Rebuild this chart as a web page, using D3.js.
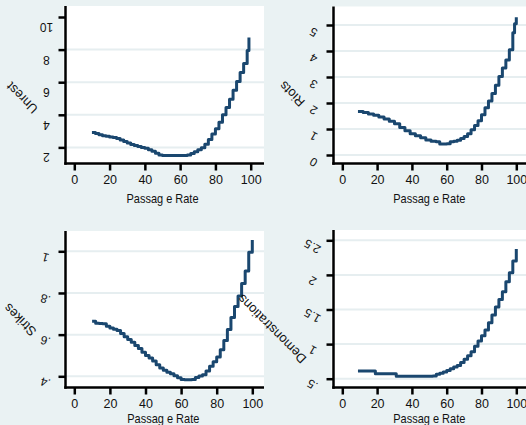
<!DOCTYPE html>
<html><head><meta charset="utf-8">
<script src="https://cdn.jsdelivr.net/npm/d3@7"></script>
<style>body{margin:0;background:#eaf2f3}svg{display:block}</style>
</head><body><svg id="c" width="526" height="425"></svg>
<script>
// ---- data ----
const xTicks = [0, 20, 40, 60, 80, 100];
const xTitle = "Passag e Rate";

const unrestX = [10,12,14,16,18,20,22,24,26,28,30,32,34,36,38,40,42,44,46,48,50,52,54,56,58,60,62,64,66,68,70,72,74,76,78,80,82,84,86,88,90,92,94,96,98,99];
const unrestY = [2.92,2.85,2.78,2.72,2.68,2.64,2.6,2.55,2.45,2.36,2.27,2.18,2.12,2.06,2.0,1.95,1.86,1.76,1.64,1.54,1.5,1.5,1.5,1.5,1.5,1.5,1.5,1.53,1.62,1.74,1.85,1.98,2.2,2.48,2.82,3.15,3.55,4.0,4.45,4.95,5.5,6.05,6.6,7.15,7.95,8.75];
const unrestTicks = [2,4,6,8,10];
const unrestTickLabels = ["2","4","6","8","10"];

const riotsX = [9,12,15,18,21,24,27,30,33,36,39,42,45,48,51,54,56,58,60,62,64,66,68,70,72,74,76,78,80,82,84,86,88,90,92,94,96,98,99,100];
const riotsY = [1.67,1.63,1.58,1.53,1.46,1.38,1.3,1.2,1.06,0.93,0.82,0.74,0.66,0.58,0.53,0.51,0.42,0.42,0.43,0.51,0.53,0.57,0.63,0.71,0.82,0.97,1.13,1.32,1.55,1.82,2.08,2.37,2.68,3.02,3.35,3.65,4.05,4.7,5.05,5.3];
const riotsTicks = [0,1,2,3,4,5];
const riotsTickLabels = ["0","1","2","3","4","5"];

const strikesX = [10,12,14,16,18,20,22,24,26,28,30,32,34,36,38,40,42,44,46,48,50,52,54,56,58,60,62,64,66,68,70,72,74,76,78,80,82,84,86,88,90,92,94,96,98,100];
const strikesY = [0.664,0.655,0.653,0.652,0.64,0.632,0.626,0.62,0.605,0.59,0.577,0.563,0.548,0.533,0.515,0.5,0.488,0.473,0.455,0.44,0.429,0.42,0.412,0.403,0.393,0.385,0.384,0.384,0.385,0.394,0.402,0.408,0.425,0.448,0.47,0.493,0.527,0.572,0.625,0.682,0.735,0.785,0.845,0.905,0.995,1.054];
const strikesTicks = [0.4,0.6,0.8,1];
const strikesTickLabels = [".4",".6",".8","1"];

const demoX = [9,12,15,18,19,22,26,30,31,35,40,45,50,52,54,56,58,60,62,64,66,68,70,72,74,76,78,80,82,84,86,88,90,92,94,96,98,100];
const demoY = [0.61,0.61,0.61,0.61,0.572,0.572,0.572,0.572,0.535,0.535,0.535,0.535,0.535,0.54,0.563,0.58,0.597,0.62,0.645,0.668,0.69,0.735,0.78,0.83,0.89,0.97,1.045,1.12,1.205,1.31,1.42,1.535,1.645,1.755,1.9,2.03,2.2,2.375];
const demoTicks = [0.5,1,1.5,2,2.5];
const demoTickLabels = [".5","1","1.5","2","2.5"];

// ---- layout ----
const BG = "#eaf2f3", GRID = "#e6eef0", LINE = "#1a476f";
const FONT = "'Liberation Sans', Arial, Helvetica, sans-serif";

const panels = [
  {title:"Unrest", xs:unrestX, ys:unrestY, ticks:unrestTicks, labels:unrestTickLabels, grid:[2,4,6,8],
   box:{l:65.5,r:264,t:6,b:163.5}, xr:[74.3,250.7], yd:[2,10], yr:[147.4,17],
   tlx:-19, tdy:10, trot:180, ttl:[22,98]},
  {title:"Riots", xs:riotsX, ys:riotsY, ticks:riotsTicks, labels:riotsTickLabels, grid:riotsTicks,
   box:{l:333.5,r:526,t:6.5,b:163.5}, xr:[342.3,516.3], yd:[0,5], yr:[155,25],
   tlx:-20, tdy:7, trot:210, ttl:[292,94]},
  {title:"Strikes", xs:strikesX, ys:strikesY, ticks:strikesTicks, labels:strikesTickLabels, grid:strikesTicks,
   box:{l:65.5,r:264,t:231,b:387.5}, xr:[74.3,252.3], yd:[0.4,1], yr:[376.3,251.3],
   tlx:-20, tdy:6, trot:195, ttl:[20,320]},
  {title:"Demonstrations", xs:demoX, ys:demoY, ticks:demoTicks, labels:demoTickLabels, grid:demoTicks,
   box:{l:333.5,r:526,t:230,b:387.5}, xr:[342.3,516.3], yd:[0.5,2.5], yr:[378.7,240.3],
   tlx:-21, tdy:6, trot:210, ttl:[272,329]}
];

const svg = d3.select("#c");
svg.append("rect").attr("width",526).attr("height",425).attr("fill",BG);

// white plot regions first
panels.forEach(p => {
  svg.append("rect").attr("x",p.box.l-2).attr("y",p.box.t).attr("width",p.box.r-p.box.l+2)
    .attr("height",p.box.b-p.box.t+2).attr("fill","#fff");
});

panels.forEach(p => {
  const x = d3.scaleLinear().domain([0,100]).range(p.xr);
  const y = d3.scaleLinear().domain(p.yd).range(p.yr);
  const g = svg.append("g");
  // grid
  g.selectAll("line.grid").data(p.grid).join("line").attr("class","grid")
    .attr("x1",p.box.l).attr("x2",p.box.r).attr("y1",d=>y(d)).attr("y2",d=>y(d))
    .attr("stroke",GRID).attr("stroke-width",2);
  // curve
  const pts = p.xs.map((v,i)=>[v,p.ys[i]]);
  g.append("path").datum(pts)
    .attr("d", d3.line().x(d=>x(d[0])).y(d=>y(d[1])).curve(d3.curveStepAfter))
    .attr("fill","none").attr("stroke",LINE).attr("stroke-width",3).attr("stroke-linejoin","round");
  // x axis
  const xa = g.append("g").attr("transform",`translate(0,${p.box.b})`)
    .call(d3.axisBottom(x).tickValues(xTicks).tickSize(7).tickPadding(5).tickFormat(d3.format("d")));
  xa.select(".domain").remove();
  xa.selectAll(".tick line").attr("stroke","#000").attr("stroke-width",2.5);
  xa.selectAll(".tick text").attr("font-family",FONT).attr("font-size",12.5).attr("fill","#111");
  // y axis ticks
  const ya = g.append("g").attr("transform",`translate(${p.box.l},0)`)
    .call(d3.axisLeft(y).tickValues(p.ticks).tickSize(7).tickFormat(""));
  ya.select(".domain").remove();
  ya.selectAll(".tick line").attr("stroke","#000").attr("stroke-width",2.5);
  // y tick labels (rotated)
  g.selectAll("text.yl").data(p.ticks).join("text").attr("class","yl")
    .attr("transform",(d)=>`translate(${p.box.l+p.tlx},${y(d)+p.tdy}) rotate(${p.trot})`)
    .attr("text-anchor","middle").attr("dominant-baseline","central")
    .attr("font-family",FONT).attr("font-size",12).attr("fill","#111")
    .text((d,i)=>p.labels[i]);
  // axis lines
  g.append("line").attr("x1",p.box.l).attr("x2",p.box.l).attr("y1",p.box.t).attr("y2",p.box.b+1.25)
    .attr("stroke","#000").attr("stroke-width",2.5);
  g.append("line").attr("x1",p.box.l-1.25).attr("x2",p.box.r).attr("y1",p.box.b).attr("y2",p.box.b)
    .attr("stroke","#000").attr("stroke-width",2.5);
  // x title
  g.append("text").attr("x",(p.xr[0]+p.xr[1])/2).attr("y",p.box.b + (p.box.t<100?35:31))
    .attr("text-anchor","middle").attr("dominant-baseline","central")
    .attr("textLength",72).attr("lengthAdjust","spacingAndGlyphs")
    .attr("font-family",FONT).attr("font-size",13).attr("fill","#111").text(xTitle);
});
// y titles on top of everything
panels.forEach(p => {
  svg.append("text").attr("transform",`translate(${p.ttl[0]},${p.ttl[1]}) rotate(225)`)
    .attr("text-anchor","middle").attr("dominant-baseline","central")
    .attr("font-family",FONT).attr("font-size",13).attr("fill","#111").text(p.title);
});
</script></body></html>
